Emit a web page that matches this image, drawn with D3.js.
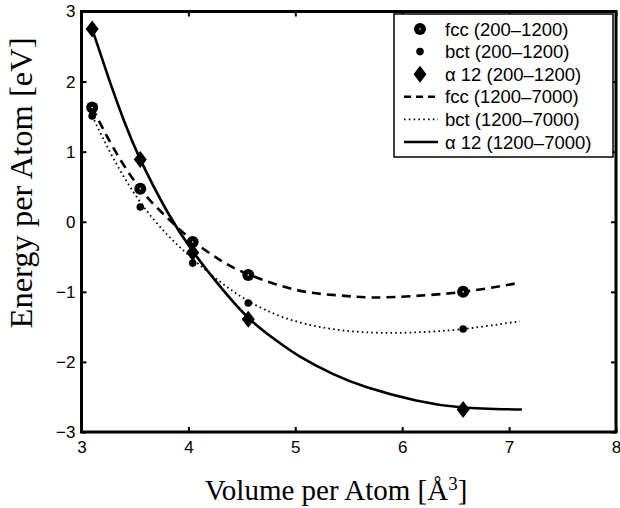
<!DOCTYPE html>
<html><head><meta charset="utf-8">
<script src="https://cdn.jsdelivr.net/npm/d3@7"></script>
<style>body{margin:0;background:#fff}svg{display:block}</style>
</head><body>
<svg id="c" width="620" height="508"></svg>
<script>
// ---- data ----
const xTicks = [3, 4, 5, 6, 7, 8];
const yTicks = [-3, -2, -1, 0, 1, 2, 3];

const fccPtsV = [3.10, 3.55, 4.04, 4.56, 6.57];
const fccPtsE = [1.63, 0.47, -0.29, -0.76, -1.00];
const bctPtsV = [3.10, 3.55, 4.04, 4.56, 6.57];
const bctPtsE = [1.51, 0.21, -0.59, -1.16, -1.53];
const a12PtsV = [3.10, 3.55, 4.04, 4.56, 6.57];
const a12PtsE = [2.75, 0.89, -0.44, -1.39, -2.68];

const fccCurveV = [3.10, 3.30, 3.55, 3.80, 4.04, 4.30, 4.56, 5.00, 5.40, 5.72, 6.10, 6.57, 7.10];
const fccCurveE = [1.63, 1.05, 0.47, 0.06, -0.27, -0.55, -0.75, -0.97, -1.05, -1.08, -1.06, -1.00, -0.87];
const bctCurveV = [3.10, 3.30, 3.55, 3.80, 4.04, 4.30, 4.56, 4.90, 5.30, 5.70, 6.10, 6.57, 7.10];
const bctCurveE = [1.51, 0.90, 0.28, -0.18, -0.53, -0.86, -1.13, -1.37, -1.52, -1.58, -1.58, -1.53, -1.42];
const a12CurveV = [3.10, 3.26, 3.40, 3.55, 3.80, 4.04, 4.30, 4.56, 4.80, 5.04, 5.35, 5.67, 6.13, 6.57, 7.12];
const a12CurveE = [2.75, 2.02, 1.43, 0.89, 0.15, -0.42, -0.93, -1.37, -1.67, -1.92, -2.17, -2.36, -2.55, -2.65, -2.68];

const legendLabels = ["fcc (200\u20131200)", "bct (200\u20131200)", "\u03b1 12 (200\u20131200)",
                      "fcc (1200\u20137000)", "bct (1200\u20137000)", "\u03b1 12 (1200\u20137000)"];

// ---- layout ----
const L = 81.5, R = 616, T = 11.5, B = 432;
const x = d3.scaleLinear().domain([3, 8]).range([L, R]);
const y = d3.scaleLinear().domain([-3, 3]).range([B, T]);
const svg = d3.select("#c");
const sansFont = "'Liberation Sans', Arial, sans-serif";
const serifFont = "'Liberation Serif', 'Times New Roman', serif";

const zip = (vs, es) => vs.map((v, i) => [v, es[i]]);
const line = d3.line().x(d => x(d[0])).y(d => y(d[1])).curve(d3.curveNatural);

// curves
svg.append("path").attr("d", line(zip(fccCurveV, fccCurveE)))
  .attr("fill", "none").attr("stroke", "#000").attr("stroke-width", 2.6).attr("stroke-dasharray", "9,6");
svg.append("path").attr("d", line(zip(bctCurveV, bctCurveE)))
  .attr("fill", "none").attr("stroke", "#000").attr("stroke-width", 1.8).attr("stroke-dasharray", "1.6,3.2");
svg.append("path").attr("d", line(zip(a12CurveV, a12CurveE)))
  .attr("fill", "none").attr("stroke", "#000").attr("stroke-width", 2.6);

// markers
function fccMarker(g, cx, cy) {
  g.append("circle").attr("cx", cx).attr("cy", cy).attr("r", 6).attr("fill", "#000");
  g.append("circle").attr("cx", cx).attr("cy", cy).attr("r", 0.8).attr("fill", "#fff");
}
function bctMarker(g, cx, cy) {
  g.append("circle").attr("cx", cx).attr("cy", cy).attr("r", 3.8).attr("fill", "#000");
}
function diamond(g, cx, cy) {
  g.append("path").attr("d", `M${cx},${cy - 8.5}L${cx + 6.5},${cy}L${cx},${cy + 8.5}L${cx - 6.5},${cy}Z`).attr("fill", "#000");
}
const mg = svg.append("g");
zip(fccPtsV, fccPtsE).forEach(d => fccMarker(mg, x(d[0]), y(d[1])));
zip(bctPtsV, bctPtsE).forEach(d => bctMarker(mg, x(d[0]), y(d[1])));
zip(a12PtsV, a12PtsE).forEach(d => diamond(mg, x(d[0]), y(d[1])));

// axes ticks (inward) on all four sides
const ax = svg.append("g").attr("font-family", sansFont);
ax.append("g").attr("transform", `translate(0,${B})`)
  .call(d3.axisBottom(x).tickValues(xTicks).tickSize(-5).tickPadding(9).tickFormat(d3.format("d")))
  .call(g => g.select(".domain").remove())
  .call(g => g.selectAll("line").attr("stroke-width", 2))
  .call(g => g.selectAll("text").attr("font-size", 17).attr("font-family", sansFont).attr("fill", "#000"));
ax.append("g").attr("transform", `translate(0,${T})`)
  .call(d3.axisTop(x).tickValues(xTicks).tickSize(-5).tickFormat(""))
  .call(g => g.select(".domain").remove())
  .call(g => g.selectAll("line").attr("stroke-width", 2));
ax.append("g").attr("transform", `translate(${L},0)`)
  .call(d3.axisLeft(y).tickValues(yTicks).tickSize(-5).tickPadding(6).tickFormat(d => d < 0 ? "\u2212" + Math.abs(d) : d))
  .call(g => g.select(".domain").remove())
  .call(g => g.selectAll("line").attr("stroke-width", 2))
  .call(g => g.selectAll("text").attr("font-size", 17).attr("font-family", sansFont).attr("fill", "#000"));
ax.append("g").attr("transform", `translate(${R},0)`)
  .call(d3.axisRight(y).tickValues(yTicks).tickSize(-5).tickFormat(""))
  .call(g => g.select(".domain").remove())
  .call(g => g.selectAll("line").attr("stroke-width", 2));

// frame
svg.append("rect").attr("x", L).attr("y", T).attr("width", R - L).attr("height", B - T)
  .attr("fill", "none").attr("stroke", "#000").attr("stroke-width", 3);

// legend
const lg = svg.append("g");
const lx = 394, ly = 14, lw = 219, lh = 143;
lg.append("rect").attr("x", lx).attr("y", ly).attr("width", lw).attr("height", lh)
  .attr("fill", "#fff").attr("stroke", "#000").attr("stroke-width", 1.5);
const rowY = i => ly + 15 + i * 22.6;
const sx = lx + 26;
fccMarker(lg, sx, rowY(0));
bctMarker(lg, sx, rowY(1));
diamond(lg, sx, rowY(2));
lg.append("line").attr("x1", lx + 10).attr("x2", lx + 44).attr("y1", rowY(3)).attr("y2", rowY(3))
  .attr("stroke", "#000").attr("stroke-width", 2.6).attr("stroke-dasharray", "7,5");
lg.append("line").attr("x1", lx + 10).attr("x2", lx + 44).attr("y1", rowY(4)).attr("y2", rowY(4))
  .attr("stroke", "#000").attr("stroke-width", 1.6).attr("stroke-dasharray", "1.6,3.2");
lg.append("line").attr("x1", lx + 10).attr("x2", lx + 44).attr("y1", rowY(5)).attr("y2", rowY(5))
  .attr("stroke", "#000").attr("stroke-width", 2.6);
lg.selectAll("text.leg").data(legendLabels).join("text").attr("class", "leg")
  .attr("x", lx + 51).attr("y", (d, i) => rowY(i)).attr("dy", "0.36em")
  .attr("font-family", sansFont).attr("font-size", 18.5).attr("fill", "#000").text(d => d);

// axis labels
svg.append("text").attr("x", 336).attr("y", 500).attr("text-anchor", "middle")
  .attr("font-family", serifFont).attr("font-size", 29).attr("fill", "#000")
  .html("Volume per Atom [Å<tspan dy='-10' font-size='19'>3</tspan><tspan dy='10'>]</tspan>");
svg.append("text").attr("transform", "translate(32,183) rotate(-90)").attr("text-anchor", "middle")
  .attr("font-family", serifFont).attr("font-size", 32.5).attr("fill", "#000")
  .text("Energy per Atom [eV]");
</script>
</body></html>
